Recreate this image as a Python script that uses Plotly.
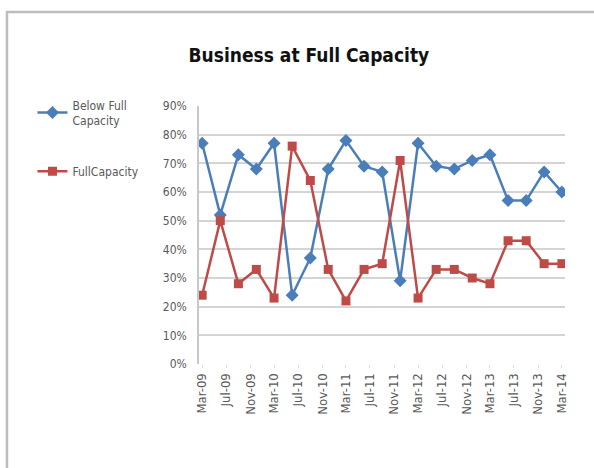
import plotly.graph_objects as go

# Quarterly survey readings, Mar-09 through Mar-14
dates = [
    "2009-03-01", "2009-06-01", "2009-09-01", "2009-12-01",
    "2010-03-01", "2010-06-01", "2010-09-01", "2010-12-01",
    "2011-03-01", "2011-06-01", "2011-09-01", "2011-12-01",
    "2012-03-01", "2012-06-01", "2012-09-01", "2012-12-01",
    "2013-03-01", "2013-06-01", "2013-09-01", "2013-12-01",
    "2014-03-01",
]
below_full = [0.77, 0.52, 0.73, 0.68, 0.77, 0.24, 0.37, 0.68, 0.78, 0.69, 0.67,
              0.29, 0.77, 0.69, 0.68, 0.71, 0.73, 0.57, 0.57, 0.67, 0.60]
full_capacity = [0.24, 0.50, 0.28, 0.33, 0.23, 0.76, 0.64, 0.33, 0.22, 0.33, 0.35,
                 0.71, 0.23, 0.33, 0.33, 0.30, 0.28, 0.43, 0.43, 0.35, 0.35]

# Axis tick labels every four months
tick_dates = [
    "2009-03-01", "2009-07-01", "2009-11-01", "2010-03-01", "2010-07-01",
    "2010-11-01", "2011-03-01", "2011-07-01", "2011-11-01", "2012-03-01",
    "2012-07-01", "2012-11-01", "2013-03-01", "2013-07-01", "2013-11-01",
    "2014-03-01",
]
tick_labels = [
    "Mar-09", "Jul-09", "Nov-09", "Mar-10", "Jul-10", "Nov-10", "Mar-11",
    "Jul-11", "Nov-11", "Mar-12", "Jul-12", "Nov-12", "Mar-13", "Jul-13",
    "Nov-13", "Mar-14",
]
y_ticks = [0, 0.1, 0.2, 0.3, 0.4, 0.5, 0.6, 0.7, 0.8, 0.9]

BLUE = "#4A7EBB"
RED = "#BE4B48"
FONT = "DejaVu Sans Condensed, Liberation Sans Narrow, sans-serif"

fig = go.Figure()
fig.add_trace(go.Scatter(
    x=dates, y=below_full, name="Below Full<br>Capacity",
    legendgroup="below",
    mode="lines+markers",
    line=dict(color=BLUE, width=2.5),
    marker=dict(symbol="diamond", size=10, color=BLUE),
))
fig.add_trace(go.Scatter(
    x=dates, y=full_capacity, name="FullCapacity",
    legendgroup="full",
    mode="lines+markers",
    line=dict(color=RED, width=2.5),
    marker=dict(symbol="square", size=9, color=RED),
))

fig.update_layout(
    width=594, height=468,
    margin=dict(l=199, r=29, t=106, b=104),
    paper_bgcolor="white", plot_bgcolor="white",
    font=dict(family=FONT, color="#595959", size=12),
    title=dict(
        text="<b>Business at Full Capacity</b>",
        x=0.52, xanchor="center", y=0.882, yanchor="middle",
        font=dict(family=FONT, size=19, color="#111111"),
    ),
    legend=dict(
        x=-0.455, y=1.06, xanchor="left", yanchor="top",
        font=dict(family=FONT, size=12, color="#595959"),
        tracegroupgap=32, itemwidth=30,
        bgcolor="rgba(0,0,0,0)",
    ),
    showlegend=True,
)

fig.update_xaxes(
    type="date",
    range=["2009-02-13", "2014-03-17"],
    tickvals=tick_dates, ticktext=tick_labels,
    tickangle=-90,
    showgrid=False,
    showline=False,
    ticks="outside", ticklen=3, tickcolor="#D9D9D9",
    tickfont=dict(family=FONT, size=13, color="#595959"),
    zeroline=False,
)
fig.update_yaxes(
    range=[0, 0.9],
    tickvals=y_ticks, tickformat=".0%",
    showgrid=True, gridcolor="#D4D4D4", gridwidth=1.5,
    showline=True, linecolor="#C8C8C8", linewidth=1.5,
    zeroline=False,
    ticks="", ticklabelstandoff=8,
    tickfont=dict(family=FONT, size=12, color="#595959"),
)

# Outer chart frame (top and left edges visible)
fig.add_shape(
    type="rect", xref="paper", yref="paper",
    x0=-0.5246, x1=1.3, y0=-1.2, y1=1.364,
    line=dict(color="#BDBDBD", width=2.5),
    fillcolor="rgba(0,0,0,0)", layer="below",
)

fig.write_html("out.html")
